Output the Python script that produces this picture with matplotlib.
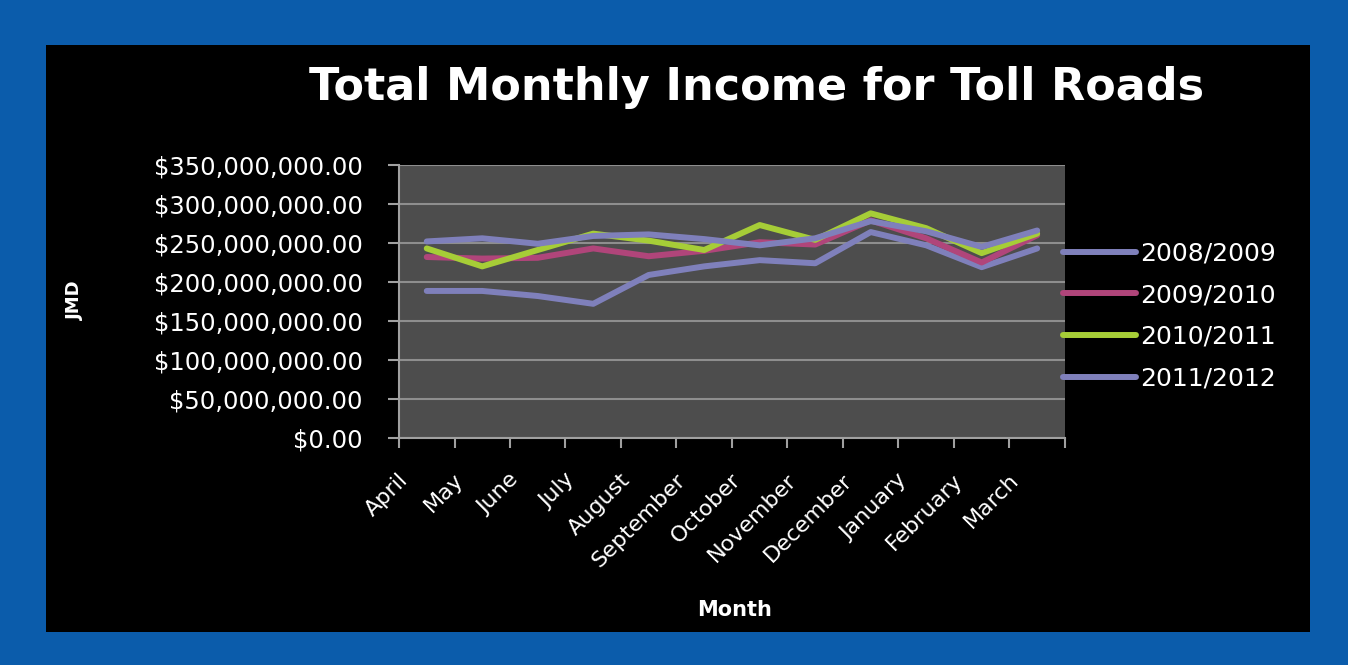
import matplotlib
matplotlib.use("Agg")
import matplotlib.pyplot as plt
import matplotlib.transforms as mtransforms
from matplotlib.patches import Rectangle
from matplotlib.ticker import FuncFormatter, MultipleLocator

months = ['April', 'May', 'June', 'July', 'August', 'September', 'October',
          'November', 'December', 'January', 'February', 'March']
years = ['2008/2009', '2009/2010', '2010/2011', '2011/2012']

# income in JMD
inc_0809 = [188.5e6, 188.5e6, 182e6, 172e6, 209e6, 220e6, 228e6, 224e6, 264e6, 247e6, 219e6, 243e6]
inc_0910 = [232e6, 230e6, 231e6, 243e6, 233e6, 240e6, 251e6, 248e6, 279e6, 256e6, 225e6, 260e6]
inc_1011 = [243e6, 220e6, 241e6, 262e6, 253e6, 241e6, 273e6, 254e6, 288e6, 269e6, 237e6, 262e6]
inc_1112 = [252e6, 256e6, 249e6, 259e6, 261e6, 255e6, 247e6, 256e6, 278e6, 265e6, 245e6, 266e6]

colours = ['#7f80bb', '#b0457a', '#a6cd37', '#7f80bb']

fig = plt.figure(figsize=(13.48, 6.65), dpi=100)
fig.patch.set_facecolor('#0b5cab')

# black panel behind the chart
bg = fig.add_axes([0, 0, 1, 1])
bg.axis('off')
bg.set_xlim(0, 1)
bg.set_ylim(0, 1)
bg.add_patch(Rectangle((0.0341, 0.0496), 0.9377, 0.8827, facecolor='black', edgecolor='none'))

ax = fig.add_axes([0.296, 0.3414, 0.494, 0.4105])
ax.set_facecolor('#4d4d4d')

x = list(range(len(months)))
for lab, ys, c in zip(years, [inc_0809, inc_0910, inc_1011, inc_1112], colours):
    ax.plot(x, ys, color=c, lw=4.3, label=lab, solid_capstyle='round', solid_joinstyle='round')

ax.set_xlim(-0.5, 11.5)
ax.set_ylim(0, 350e6)
ax.yaxis.set_major_locator(MultipleLocator(50e6))
ax.yaxis.set_major_formatter(FuncFormatter(lambda v, p: '${:,.2f}'.format(v)))
ax.grid(axis='y', color='#8e8e8e', lw=1.5)
ax.set_axisbelow(True)

ax.set_xticks([i - 0.5 for i in range(13)], minor=True)
ax.set_xticks(x)
ax.set_xticklabels(months, rotation=45, ha='right', va='top', rotation_mode='anchor')
ax.tick_params(axis='x', which='major', length=0, pad=23, labelsize=16, colors='white')
ax.tick_params(axis='x', which='minor', length=7, width=1.5, color='#a0a0a0')
ax.tick_params(axis='y', length=8, width=1.5, color='#a0a0a0', labelsize=17.5,
               labelcolor='white', pad=18)
shift = mtransforms.ScaledTranslation(-0.29, 0, fig.dpi_scale_trans)
for t in ax.get_xticklabels():
    t.set_transform(t.get_transform() + shift)

for s in ['top', 'right']:
    ax.spines[s].set_visible(False)
for s in ['left', 'bottom']:
    ax.spines[s].set_color('#a0a0a0')
    ax.spines[s].set_linewidth(1.5)

fig.text(0.561, 0.869, 'Total Monthly Income for Toll Roads', ha='center', va='center',
         color='white', fontsize=32, fontweight='bold')
fig.text(0.0556, 0.549, 'JMD', rotation=90, ha='center', va='center', color='white',
         fontsize=13, fontweight='bold')
fig.text(0.545, 0.083, 'Month', ha='center', va='center', color='white',
         fontsize=15, fontweight='bold')

leg = ax.legend(loc='upper left', bbox_to_anchor=(0.7886, 0.637), bbox_transform=fig.transFigure,
                frameon=False, fontsize=18, handlelength=2.9, handletextpad=0.2,
                labelspacing=0.71, borderpad=0, borderaxespad=0)
for t in leg.get_texts():
    t.set_color('white')

fig.savefig('out.png', dpi=100, facecolor=fig.get_facecolor())
